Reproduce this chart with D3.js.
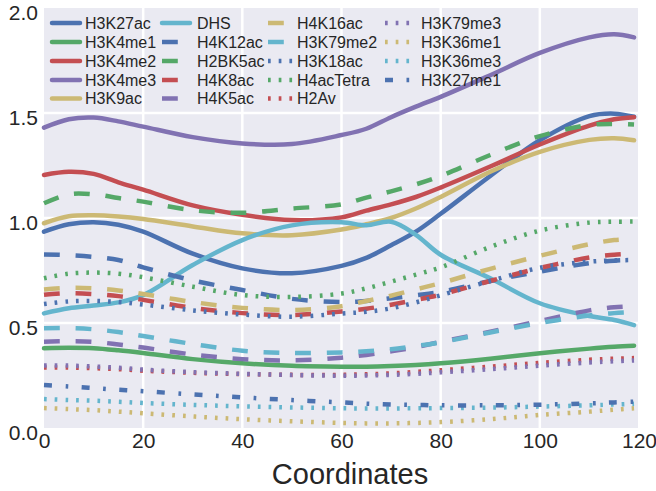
<!DOCTYPE html>
<html>
<head>
<meta charset="utf-8">
<script src="https://cdn.jsdelivr.net/npm/d3@7"></script>
<style>
  html, body { margin: 0; padding: 0; background: #ffffff; }
  svg { display: block; }
  text { font-family: "Liberation Sans", Arial, Helvetica, sans-serif; fill: #262626; }
</style>
</head>
<body>
<svg id="chart" width="656" height="491"></svg>
<script>
// Shared sample positions along the coordinate axis
const coords = [0, 5, 10, 15, 20, 30, 40, 50, 60, 65, 70, 75, 80, 90, 100, 110, 115, 119];

// Mark profiles, one array per track
const H3K27ac   = [0.935, 0.970, 0.980, 0.968, 0.935, 0.830, 0.760, 0.737, 0.772, 0.810, 0.870, 0.935, 1.020, 1.200, 1.370, 1.485, 1.497, 1.482];
const H3K4me1   = [0.380, 0.382, 0.380, 0.370, 0.357, 0.328, 0.308, 0.296, 0.292, 0.292, 0.295, 0.300, 0.308, 0.330, 0.356, 0.378, 0.387, 0.392];
const H3K4me2   = [1.205, 1.220, 1.210, 1.170, 1.135, 1.060, 1.015, 0.990, 1.003, 1.035, 1.065, 1.100, 1.145, 1.245, 1.350, 1.440, 1.470, 1.480];
const H3K4me3   = [1.430, 1.470, 1.478, 1.460, 1.435, 1.385, 1.355, 1.352, 1.395, 1.425, 1.480, 1.530, 1.577, 1.680, 1.786, 1.860, 1.875, 1.860];
const H3K9ac    = [0.975, 1.008, 1.013, 1.007, 0.995, 0.960, 0.927, 0.918, 0.945, 0.970, 1.000, 1.045, 1.100, 1.220, 1.315, 1.372, 1.380, 1.370];
const DHS       = [0.546, 0.570, 0.583, 0.598, 0.633, 0.776, 0.895, 0.965, 0.980, 0.965, 0.982, 0.920, 0.825, 0.713, 0.594, 0.533, 0.514, 0.490];
const H4K12ac   = [0.826, 0.823, 0.815, 0.800, 0.765, 0.703, 0.657, 0.615, 0.600, 0.605, 0.618, 0.632, 0.648, 0.700, 0.745, 0.785, 0.797, 0.800];
const H2BK5ac   = [1.070, 1.113, 1.113, 1.095, 1.078, 1.037, 1.025, 1.045, 1.065, 1.097, 1.127, 1.160, 1.200, 1.300, 1.390, 1.443, 1.448, 1.445];
const H4K8ac    = [0.634, 0.642, 0.638, 0.628, 0.610, 0.572, 0.547, 0.538, 0.555, 0.568, 0.587, 0.610, 0.635, 0.700, 0.762, 0.812, 0.825, 0.830];
const H4K5ac    = [0.411, 0.413, 0.410, 0.398, 0.383, 0.350, 0.328, 0.322, 0.335, 0.348, 0.365, 0.385, 0.410, 0.458, 0.510, 0.560, 0.575, 0.580];
const H4K16ac   = [0.660, 0.668, 0.665, 0.655, 0.638, 0.600, 0.572, 0.562, 0.580, 0.605, 0.630, 0.660, 0.690, 0.758, 0.820, 0.875, 0.895, 0.900];
const H3K79me2  = [0.475, 0.476, 0.470, 0.457, 0.438, 0.400, 0.368, 0.357, 0.360, 0.366, 0.375, 0.390, 0.408, 0.455, 0.500, 0.536, 0.547, 0.552];
const H3K18ac   = [0.590, 0.603, 0.605, 0.600, 0.588, 0.560, 0.540, 0.530, 0.545, 0.553, 0.570, 0.598, 0.632, 0.700, 0.763, 0.792, 0.798, 0.800];
const H4acTetra = [0.713, 0.735, 0.740, 0.735, 0.718, 0.673, 0.633, 0.624, 0.640, 0.665, 0.697, 0.730, 0.765, 0.862, 0.940, 0.978, 0.982, 0.983];
const H2Av      = [0.288, 0.288, 0.285, 0.280, 0.273, 0.263, 0.257, 0.253, 0.253, 0.256, 0.260, 0.267, 0.275, 0.292, 0.310, 0.325, 0.330, 0.333];
const H3K79me3  = [0.298, 0.297, 0.293, 0.287, 0.278, 0.266, 0.258, 0.252, 0.249, 0.250, 0.253, 0.258, 0.265, 0.280, 0.297, 0.312, 0.318, 0.322];
const H3K36me1  = [0.095, 0.090, 0.085, 0.078, 0.070, 0.055, 0.042, 0.032, 0.024, 0.022, 0.022, 0.024, 0.028, 0.042, 0.062, 0.078, 0.087, 0.094];
const H3K36me3  = [0.138, 0.133, 0.130, 0.125, 0.119, 0.110, 0.103, 0.098, 0.094, 0.093, 0.093, 0.094, 0.095, 0.097, 0.102, 0.108, 0.112, 0.115];
const H3K27me1  = [0.205, 0.198, 0.190, 0.182, 0.175, 0.160, 0.146, 0.133, 0.122, 0.116, 0.112, 0.110, 0.108, 0.108, 0.111, 0.117, 0.122, 0.125];

const seriesNames = ["H3K27ac", "H3K4me1", "H3K4me2", "H3K4me3", "H3K9ac", "DHS",
  "H4K12ac", "H2BK5ac", "H4K8ac", "H4K5ac", "H4K16ac", "H3K79me2",
  "H3K18ac", "H4acTetra", "H2Av", "H3K79me3", "H3K36me1", "H3K36me3", "H3K27me1"];
const seriesValues = [H3K27ac, H3K4me1, H3K4me2, H3K4me3, H3K9ac, DHS,
  H4K12ac, H2BK5ac, H4K8ac, H4K5ac, H4K16ac, H3K79me2,
  H3K18ac, H4acTetra, H2Av, H3K79me3, H3K36me1, H3K36me3, H3K27me1];

const xTicks = [0, 20, 40, 60, 80, 100, 120];
const yTicks = [0.0, 0.5, 1.0, 1.5, 2.0];
const xLabel = "Coordinates";

// Palette cycles every six tracks; line style steps with each cycle
const palette = ["#4C72B0", "#55A868", "#C44E52", "#8172B2", "#CCB974", "#64B5CD"];
const dashStyles = [null, "15.8,15.8", "2.7,8", "8,13.5,2.7,13.5"];

const svg = d3.select("#chart");
const plotLeft = 44, plotRight = 639, plotTop = 8, plotBottom = 428;

const x = d3.scaleLinear().domain([0, 120]).range([plotLeft, plotRight]);
const y = d3.scaleLinear().domain([0, 2]).range([plotBottom, plotTop]);

// Axes background
svg.append("rect")
  .attr("x", plotLeft).attr("y", plotTop)
  .attr("width", plotRight - plotLeft - 1).attr("height", plotBottom - plotTop)
  .attr("fill", "#EAEAF2");

// Grid
const grid = svg.append("g");
grid.selectAll("line.gx").data(xTicks.slice(1, -1)).join("line")
  .attr("x1", d => x(d)).attr("x2", d => x(d))
  .attr("y1", plotTop).attr("y2", plotBottom)
  .attr("stroke", "#ffffff").attr("stroke-width", 2.5);
grid.selectAll("line.gy").data(yTicks.slice(1, -1)).join("line")
  .attr("x1", plotLeft).attr("x2", plotRight - 1)
  .attr("y1", d => y(d)).attr("y2", d => y(d))
  .attr("stroke", "#ffffff").attr("stroke-width", 2.5);

// Tick labels via d3 axes, with tick marks and domain hidden
const xAxis = svg.append("g")
  .attr("transform", `translate(0,${plotBottom})`)
  .call(d3.axisBottom(x).tickValues(xTicks).tickSize(0).tickPadding(5).tickFormat(d3.format("d")));
const yAxis = svg.append("g")
  .attr("transform", `translate(${plotLeft},0)`)
  .call(d3.axisLeft(y).tickValues(yTicks).tickSize(0).tickPadding(6).tickFormat(d3.format(".1f")));
[xAxis, yAxis].forEach(g => {
  g.select(".domain").remove();
  g.selectAll("text")
    .style("font-family", '"Liberation Sans", Arial, sans-serif')
    .style("font-size", "21px")
    .attr("fill", "#262626");
});
yAxis.selectAll("text").attr("dy", "0.56em");

// Axis title
svg.append("text")
  .attr("x", 350).attr("y", 484)
  .attr("text-anchor", "middle")
  .style("font-size", "29px")
  .text(xLabel);

// Profiles
const line = d3.line()
  .x((d, i) => x(coords[i]))
  .y(d => y(d))
  .curve(d3.curveCatmullRom.alpha(0.5));

const plot = svg.append("g");
seriesNames.forEach((name, k) => {
  const dash = dashStyles[Math.floor(k / 6)];
  plot.append("path")
    .datum(seriesValues[k])
    .attr("d", line)
    .attr("fill", "none")
    .attr("stroke", palette[k % 6])
    .attr("stroke-width", 4.5)
    .attr("stroke-linecap", dash ? "butt" : "round")
    .attr("stroke-dasharray", dash);
});

// Legend: four columns, filled top to bottom
const colHandle = [52, 162, 268, 385];
const colText = [85, 197, 297, 421];
const rowY = [23, 42, 61, 80, 98.5];
const legend = svg.append("g");
seriesNames.forEach((name, k) => {
  const col = Math.floor(k / 5), row = k % 5;
  const dash = dashStyles[Math.floor(k / 6)];
  const yy = rowY[row];
  legend.append("line")
    .attr("x1", colHandle[col]).attr("x2", colHandle[col] + 28)
    .attr("y1", yy).attr("y2", yy)
    .attr("stroke", palette[k % 6])
    .attr("stroke-width", 4.5)
    .attr("stroke-linecap", dash ? "butt" : "round")
    .attr("stroke-dasharray", dash);
  legend.append("text")
    .attr("x", colText[col]).attr("y", yy)
    .attr("dy", "0.36em")
    .style("font-size", "16px")
    .text(name);
});
</script>
</body>
</html>
